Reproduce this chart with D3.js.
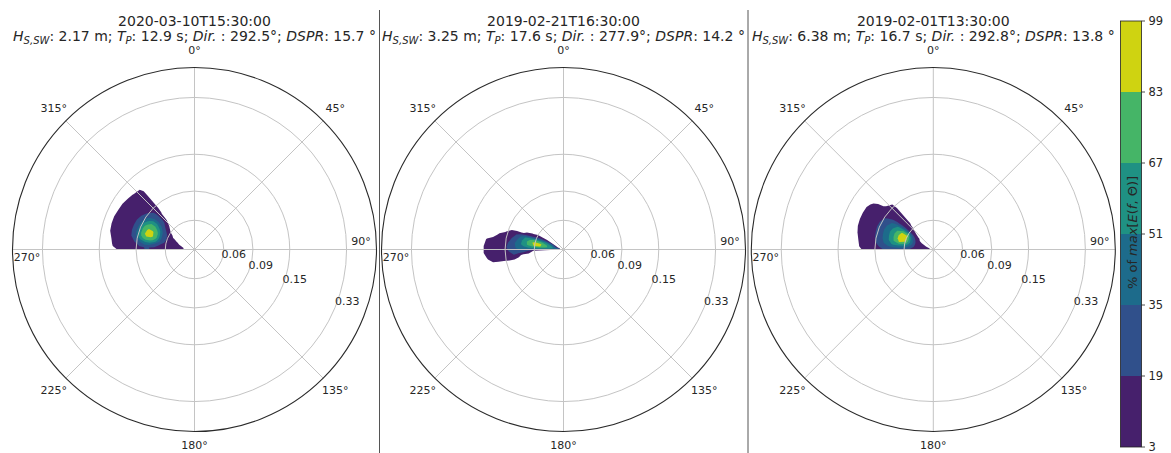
<!DOCTYPE html>
<html>
<head>
<meta charset="utf-8">
<script src="https://cdn.jsdelivr.net/npm/d3@7"></script>
<style>
  html, body { margin: 0; padding: 0; background: #fff; }
  svg { display: block; font-family: "DejaVu Sans", sans-serif; }
  text { fill: #262626; white-space: pre; }
</style>
</head>
<body>
<svg id="chart" width="1171" height="453"></svg>
<script>
// ---------------------------------------------------------------------------
// Directional wave spectra, % of max E(f, θ)
// rows = frequency bins (Hz), columns = direction bins (deg, nautical)
// ---------------------------------------------------------------------------
const freqs = [0.044, 0.048, 0.052, 0.056, 0.060, 0.065, 0.070, 0.075, 0.080,
               0.086, 0.093, 0.100, 0.108, 0.117, 0.126, 0.136, 0.147];

const dirsA = [272.5, 277.5, 282.5, 287.5, 292.5, 297.5, 302.5, 307.5, 312.5, 317.5, 322.5];
const specA = [
  [0, 0, 0, 0, 0, 0, 0, 0, 0, 0, 0],
  [4.5, 4.5, 3.1, 1.5, 0.5, 0, 0, 0, 0, 0, 0],
  [5.2, 5.8, 6.3, 4.5, 3.1, 1, 0, 0, 0, 0, 0],
  [6.5, 7.5, 8.6, 9.1, 9.0, 3.6, 0, 0, 0, 0, 0],
  [8.3, 10.4, 14.4, 16.2, 16.0, 14.6, 8, 0, 0, 0, 0],
  [11.7, 18.5, 29.5, 35.6, 34.4, 30.1, 23.1, 14, 3.5, 0, 0],
  [16.5, 31.5, 60.2, 71.8, 70.6, 62.1, 42.1, 27.1, 17.2, 0, 0],
  [19.0, 44.0, 74.1, 88.8, 85.5, 75.2, 60.6, 34.0, 20.7, 2, 0],
  [19.3, 44.7, 74.6, 90.4, 86.7, 75.8, 61.5, 34.3, 20.9, 3.5, 0],
  [16.7, 31.9, 61.5, 72.5, 71.3, 63.4, 43.1, 27.5, 17.4, 4.2, 0],
  [11.8, 18.6, 29.6, 35.8, 34.5, 30.3, 23.3, 16.9, 12.3, 4.2, 0],
  [8.6, 11.4, 15.5, 17.4, 17.1, 15.7, 13.3, 10.1, 8.8, 4.2, 0],
  [6.5, 7.6, 8.7, 9.2, 9.2, 8.8, 8.0, 7.3, 6.7, 4.2, 0],
  [5.2, 5.8, 6.3, 6.5, 6.4, 6.3, 6.0, 5.6, 5.2, 4.2, 0],
  [2.6, 3.75, 5, 5, 5, 5, 5, 3.75, 2.8, 2.5, 0],
  [0, 0, 2, 2.4, 2.4, 1.5, 0.9, 0, 0, 0, 0],
  [0, 0, 0, 0, 0, 0, 0, 0, 0, 0, 0]
];

const dirsB = [257.5, 262.5, 267.5, 272.5, 277.5, 282.5, 287.5, 292.5, 297.5, 302.5];
const specB = [
  [0, 0, 0, 30, 40, 30, 10, 2, 0, 0],
  [0, 0, 0, 45, 60, 58, 50, 42, 3.5, 0],
  [0, 0, 0, 50, 72, 72, 62, 45, 6, 0],
  [0, 0, 0, 52, 85, 88, 70, 40, 6, 0],
  [0, 0, 0, 52, 86, 90, 70, 28, 5, 0],
  [0, 0, 17, 50, 72, 75, 62, 15, 2.5, 0],
  [0, 0, 26, 46, 58, 58, 50, 6, 0, 0],
  [0, 6, 30, 40, 45, 40, 32, 0, 0, 0],
  [0, 17, 24, 32, 33, 26, 18, 0, 0, 0],
  [0, 15, 18, 22, 20, 14, 8, 0, 0, 0],
  [0, 10, 12, 14, 11, 8, 2.2, 0, 0, 0],
  [0, 8, 9, 10, 8, 4.5, 0, 0, 0, 0],
  [0, 6.5, 7, 7.5, 6, 0, 0, 0, 0, 0],
  [0, 2.1, 5.5, 5.5, 3.5, 0, 0, 0, 0, 0],
  [0, 0, 0.3, 0.3, 0, 0, 0, 0, 0, 0],
  [0, 0, 0, 0, 0, 0, 0, 0, 0, 0],
  [0, 0, 0, 0, 0, 0, 0, 0, 0, 0]
];

const dirsC = [272.5, 277.5, 282.5, 287.5, 292.5, 297.5, 302.5, 307.5, 312.5, 317.5, 322.5];
const specC = [
  [6, 7, 7, 5, 2, 0, 0, 0, 0, 0, 0],
  [8, 10, 11, 11, 8, 3.5, 0, 0, 0, 0, 0],
  [12, 15, 18, 19, 17, 12, 6, 4, 0, 0, 0],
  [22, 35, 45, 50, 48, 40, 28, 10, 3.5, 0, 0],
  [30, 52, 75, 88, 88, 84, 58, 17, 8, 1.5, 0],
  [33, 56, 84, 92, 92, 86, 62, 20, 9, 4, 0],
  [32, 54, 68, 72, 73, 68, 55, 20, 9, 4, 0],
  [28, 46, 52, 54, 55, 52, 44, 18, 8, 4, 0],
  [23, 35, 40, 42, 43, 40, 33, 15, 7, 4, 0],
  [17, 24, 27, 29, 30, 28, 23, 11, 6, 4, 0],
  [12, 15, 17, 18, 19, 18, 15, 8, 5, 3.1, 0],
  [8, 10, 11, 12, 12, 11, 10, 6, 1.7, 0, 0],
  [5.5, 6.5, 7, 8, 8, 7.5, 6.5, 5, 0, 0, 0],
  [0, 1.5, 3.2, 4.5, 5, 5, 4.5, 2, 0, 0, 0],
  [0, 0, 0, 0, 0, 0, 0, 0, 0, 0, 0],
  [0, 0, 0, 0, 0, 0, 0, 0, 0, 0, 0],
  [0, 0, 0, 0, 0, 0, 0, 0, 0, 0, 0]
];

// Bulk parameters shown in the panel titles
const times   = ["2020-03-10T15:30:00", "2019-02-21T16:30:00", "2019-02-01T13:30:00"];
const hsSwell = [2.17, 3.25, 6.38];
const tPeak   = [12.9, 17.6, 16.7];
const dirMean = [292.5, 277.9, 292.8];
const dspr    = [15.7, 14.2, 13.8];

// Contour levels (% of max) and axis ticks
const levels    = [3, 19, 35, 51, 67, 83, 99];
const bandColors = ["#46206c", "#30508b", "#1d6b8b", "#1f9183", "#45b567", "#cfd311"];
const freqTicks = [0.06, 0.09, 0.15, 0.33];
const dirTicks  = [0, 45, 90, 135, 180, 225, 270, 315];

// ---------------------------------------------------------------------------
const svg = d3.select("#chart");
const R = 182;
const cy = 249.5;
const centersX = [194.5, 563.5, 933.3];
const rScale = d3.scaleLog().domain([0.04, 0.5]).range([0, R]);

const panels = [
  { dirs: dirsA, spec: specA },
  { dirs: dirsB, spec: specB },
  { dirs: dirsC, spec: specC }
];

// Maps continuous grid coordinates (direction index, frequency index) to screen
function polarProjection(dirs, cx) {
  const thetaOf = d3.scaleLinear().domain(dirs.map((_, i) => i + 0.5)).range(dirs);
  const logfOf = d3.scaleLinear().domain(freqs.map((_, i) => i + 0.5)).range(freqs.map(Math.log));
  return d3.geoTransform({
    point(x, y) {
      const th = thetaOf(x) * Math.PI / 180;
      const r = rScale(Math.exp(logfOf(y)));
      this.stream.point(cx + r * Math.sin(th), cy - r * Math.cos(th));
    }
  });
}

panels.forEach((p, k) => {
  const cx = centersX[k];
  const g = svg.append("g");

  // filled contours
  const contours = d3.contours()
    .size([p.dirs.length, freqs.length])
    .thresholds(levels.slice(0, -1))(p.spec.flat());
  const path = d3.geoPath(polarProjection(p.dirs, cx));
  g.append("g").selectAll("path")
    .data(contours)
    .join("path")
    .attr("d", path)
    .attr("fill", (d, i) => bandColors[i])
    .attr("stroke", "none");

  // grid: frequency circles and direction spokes
  const grid = g.append("g").attr("fill", "none").attr("stroke", "#c4c4c4").attr("stroke-width", 1);
  freqTicks.forEach(f => {
    grid.append("circle").attr("cx", cx).attr("cy", cy).attr("r", rScale(f));
  });
  dirTicks.forEach(a => {
    const t = a * Math.PI / 180;
    grid.append("line")
      .attr("x1", cx).attr("y1", cy)
      .attr("x2", cx + R * Math.sin(t)).attr("y2", cy - R * Math.cos(t));
  });
  g.append("circle").attr("cx", cx).attr("cy", cy).attr("r", R)
    .attr("fill", "none").attr("stroke", "#2a2a2a").attr("stroke-width", 1.1);

  // direction labels
  dirTicks.forEach(a => {
    const t = a * Math.PI / 180;
    let x = cx + 199 * Math.sin(t), y = cy - 199 * Math.cos(t);
    if (a === 90) { x = cx + 166.5; y = cy - 8; }
    if (a === 270) { x = cx - 167.5; y = cy + 8; }
    if (a === 180) { y = cy + 196; }
    g.append("text").attr("x", x).attr("y", y)
      .attr("text-anchor", "middle").attr("dominant-baseline", "central")
      .style("font-size", "11px").text(a + "°");
  });

  // frequency labels along the 112.5° ray
  const la = 112.5 * Math.PI / 180;
  freqTicks.forEach(f => {
    const r = rScale(f);
    g.append("text")
      .attr("x", cx + r * Math.sin(la))
      .attr("y", cy - r * Math.cos(la) - 2.5)
      .style("font-size", "11px").text(f.toFixed(2));
  });

  // titles
  g.append("text").attr("x", cx).attr("y", 25.5).attr("text-anchor", "middle")
    .style("font-size", "14px").text(times[k]);
  const t2 = g.append("text").attr("x", cx).attr("y", 40.5).attr("text-anchor", "middle")
    .style("font-size", "14px");
  t2.append("tspan").style("font-style", "italic").text("H");
  t2.append("tspan").attr("dy", 3.5).style("font-style", "italic").style("font-size", "10px").text("S,SW");
  t2.append("tspan").attr("dy", -3.5).text(`: ${hsSwell[k].toFixed(2)} m; `);
  t2.append("tspan").style("font-style", "italic").text("T");
  t2.append("tspan").attr("dy", 3.5).style("font-style", "italic").style("font-size", "10px").text("P");
  t2.append("tspan").attr("dy", -3.5).text(`: ${tPeak[k].toFixed(1)} s; `);
  t2.append("tspan").style("font-style", "italic").text("Dir.");
  t2.append("tspan").text(` : ${dirMean[k].toFixed(1)}°; `);
  t2.append("tspan").style("font-style", "italic").text("DSPR");
  t2.append("tspan").text(`: ${dspr[k].toFixed(1)} °`);
});

// panel separators
[379.5, 748].forEach(x => {
  svg.append("line").attr("x1", x).attr("x2", x).attr("y1", 10).attr("y2", 453)
    .attr("stroke", "#555").attr("stroke-width", 1);
});

// colour bar
const cbX = 1120.5, cbW = 21;
const cbY = d3.scaleLinear().domain([levels[0], levels[levels.length - 1]]).range([447, 21]);
const cb = svg.append("g");
cb.selectAll("rect.band")
  .data(d3.range(levels.length - 1))
  .join("rect")
  .attr("class", "band")
  .attr("x", cbX).attr("width", cbW)
  .attr("y", i => cbY(levels[i + 1]))
  .attr("height", i => cbY(levels[i]) - cbY(levels[i + 1]))
  .attr("fill", i => bandColors[i]);
cb.append("rect").attr("x", cbX).attr("y", cbY(99)).attr("width", cbW).attr("height", cbY(3) - cbY(99))
  .attr("fill", "none").attr("stroke", "#222").attr("stroke-width", 0.8);
levels.forEach(v => {
  cb.append("line").attr("x1", cbX + cbW).attr("x2", cbX + cbW + 3.5)
    .attr("y1", cbY(v)).attr("y2", cbY(v)).attr("stroke", "#222").attr("stroke-width", 0.8);
  cb.append("text").attr("x", cbX + cbW + 7).attr("y", cbY(v))
    .attr("dominant-baseline", "central").style("font-size", "11.5px").text(v);
});
const cbl = cb.append("text")
  .attr("transform", `translate(${cbX + cbW / 2 + 0.5},232.5) rotate(-90)`)
  .attr("text-anchor", "middle").attr("dominant-baseline", "central")
  .style("font-size", "13px");
cbl.append("tspan").text("% of ");
cbl.append("tspan").style("font-style", "italic").text("max");
cbl.append("tspan").text("[");
cbl.append("tspan").style("font-style", "italic").text("E");
cbl.append("tspan").text("(");
cbl.append("tspan").style("font-style", "italic").text("f");
cbl.append("tspan").text(", Θ)]");
</script>
</body>
</html>
